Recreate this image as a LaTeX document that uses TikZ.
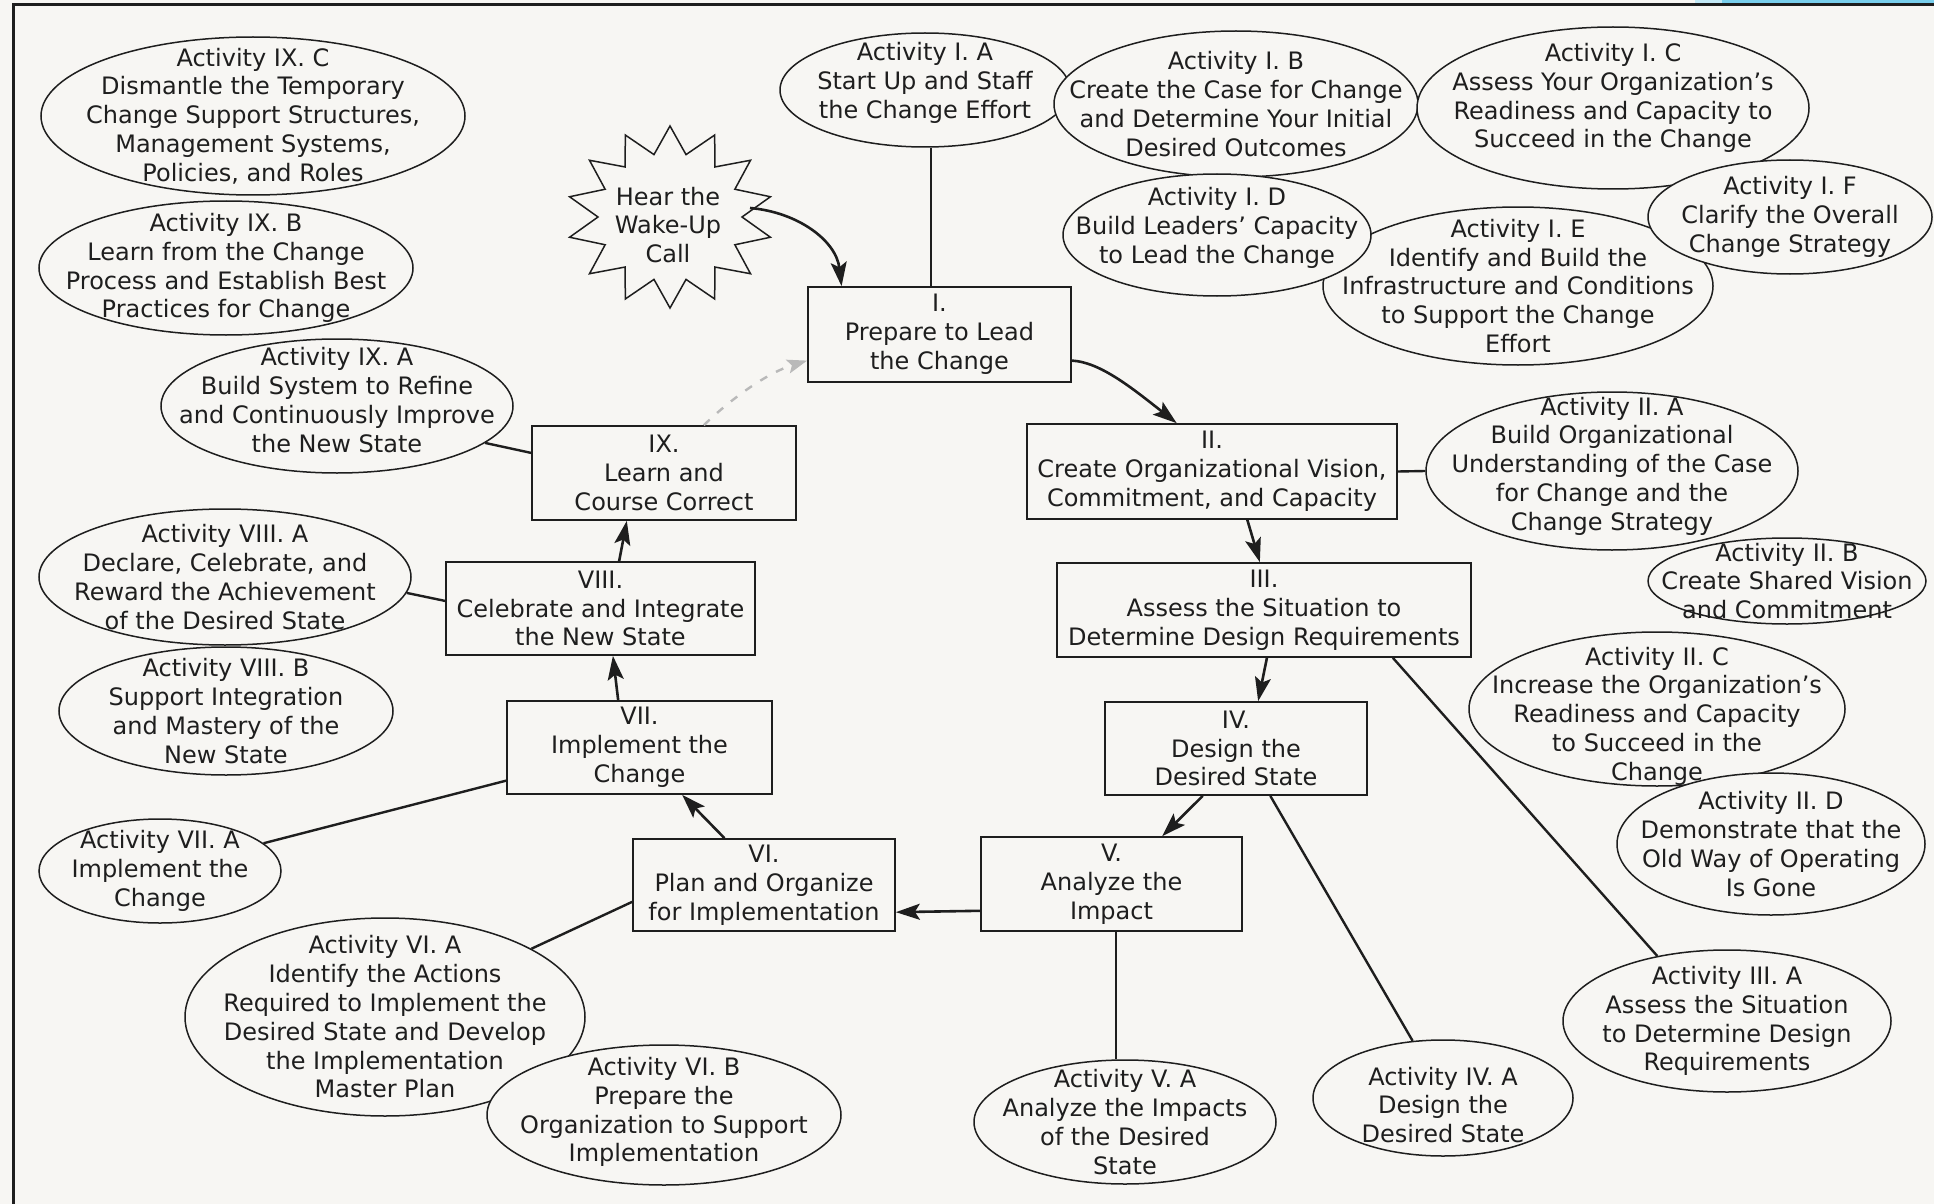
\documentclass[tikz,border=0pt]{standalone}
\usepackage{fontspec}
\newfontfamily\dejavu{DejaVu Sans}
\usetikzlibrary{arrows.meta,calc,shapes.geometric}
\definecolor{paper}{RGB}{247,246,243}
\definecolor{ink}{RGB}{30,30,30}
\definecolor{tabcyan}{RGB}{120,206,236}
\newcommand\txtfont{\dejavu\fontsize{12pt}{14.4pt}\selectfont}
\begin{document}
\begin{tikzpicture}[x=0.5pt,y=-0.5pt,
  stagebox/.style 2 args={draw=ink, line width=0.85pt, fill=paper, rectangle, inner sep=0pt,
     minimum width=#1*0.5pt, minimum height=#2*0.5pt, align=center, font=\txtfont, text=ink},
  act/.style 2 args={draw=ink, line width=0.75pt, fill=paper, ellipse, inner sep=0pt,
     minimum width=#1*1pt, minimum height=#2*1pt},
  acttxt/.style={align=center, font=\txtfont, text=ink, inner sep=0pt},
  link/.style={draw=ink, line width=1.2pt},
  flow/.style={draw=ink, line width=1.3pt, -{Stealth[length=12pt,width=8pt,inset=2.5pt]}},
  loopback/.style={draw=gray!55, line width=1.2pt, dash pattern=on 4pt off 5pt,
     -{Stealth[length=10pt,width=7pt,inset=2pt]}},
]
% page, frame and tab
\fill[paper] (0,0) rectangle (1934,1204);
\useasboundingbox (0,0) rectangle (1934,1204);
\fill[tabcyan!45] (1695,0) rectangle (1722,4);
\fill[tabcyan] (1722,0) rectangle (1934,4);
\draw[ink, line width=1.5pt] (13.5,1204) -- (13.5,5) -- (1934,5);

% ---- activities of phase IX, VIII, VII, VI
\node[act={212}{79}, label={[acttxt]center:{Activity IX. C\\Dismantle the Temporary\\Change Support Structures,\\Management Systems,\\Policies, and Roles}}] (eIXC) at (253,116) {};
\node[act={187}{67}, label={[acttxt]center:{Activity IX. B\\Learn from the Change\\Process and Establish Best\\Practices for Change}}] (eIXB) at (226,268) {};
\node[act={176}{67}, label={[acttxt,yshift=3pt]center:{Activity IX. A\\Build System to Refine\\and Continuously Improve\\the New State}}] (eIXA) at (337,406) {};
\node[act={186}{68}, label={[acttxt]center:{Activity VIII. A\\Declare, Celebrate, and\\Reward the Achievement\\of the Desired State}}] (eVIIIA) at (225,577) {};
\node[act={167}{64}, label={[acttxt]center:{Activity VIII. B\\Support Integration\\and Mastery of the\\New State}}] (eVIIIB) at (226,711) {};
\node[act={121}{52}, label={[acttxt]center:{Activity VII. A\\Implement the\\Change}}] (eVIIA) at (160,871) {};
\node[act={200}{99}, label={[acttxt]center:{Activity VI. A\\Identify the Actions\\Required to Implement the\\Desired State and Develop\\the Implementation\\Master Plan}}] (eVIA) at (385,1017) {};
\node[act={177}{70}, label={[acttxt,yshift=1.5pt]center:{Activity VI. B\\Prepare the\\Organization to Support\\Implementation}}] (eVIB) at (664,1115) {};

% ---- activities of phase V, IV, III
\node[act={151}{62}, label={[acttxt]center:{Activity V. A\\Analyze the Impacts\\of the Desired\\State}}] (eVA) at (1125,1122) {};
\node[act={130}{58}, label={[acttxt,yshift=-3.5pt]center:{Activity IV. A\\Design the\\Desired State}}] (eIVA) at (1443,1098) {};
\node[act={164}{71}, label={[acttxt]center:{Activity III. A\\Assess the Situation\\to Determine Design\\Requirements}}] (eIIIA) at (1727,1021) {};

% ---- activities of phase I
\node[act={145}{57}, label={[acttxt,yshift=3.5pt]center:{Activity I. A\\Start Up and Staff\\the Change Effort}}] (eIA) at (925,90) {};
\node[act={182}{73}, label={[acttxt]center:{Activity I. B\\Create the Case for Change\\and Determine Your Initial\\Desired Outcomes}}] (eIB) at (1236,104) {};
\node[act={196}{81}, label={[acttxt,yshift=5pt]center:{Activity I. C\\Assess Your Organization’s\\Readiness and Capacity to\\Succeed in the Change}}] (eIC) at (1613,108) {};
\node[act={195}{79}, label={[acttxt]center:{Activity I. E\\Identify and Build the\\Infrastructure and Conditions\\to Support the Change\\Effort}}] (eIE) at (1518,286) {};
\node[act={154}{61}, label={[acttxt,yshift=3.5pt]center:{Activity I. D\\Build Leaders’ Capacity\\to Lead the Change}}] (eID) at (1217,235) {};
\node[act={142}{57}, label={[acttxt]center:{Activity I. F\\Clarify the Overall\\Change Strategy}}] (eIF) at (1790,217) {};

% ---- activities of phase II
\node[act={186}{79}, label={[acttxt,yshift=2.5pt]center:{Activity II. A\\Build Organizational\\Understanding of the Case\\for Change and the\\Change Strategy}}] (eIIA) at (1612,471) {};
\node[act={139}{43}, label={[acttxt]center:{Activity II. B\\Create Shared Vision\\and Commitment}}] (eIIB) at (1787,581) {};
\node[act={188}{77}, label={[acttxt,yshift=-3.5pt]center:{Activity II. C\\Increase the Organization’s\\Readiness and Capacity\\to Succeed in the\\Change}}] (eIIC) at (1657,709) {};
\node[act={154}{71}, label={[acttxt]center:{Activity II. D\\Demonstrate that the\\Old Way of Operating\\Is Gone}}] (eIID) at (1771,844) {};

% ---- the wake-up call
\draw[ink, line width=0.75pt, fill=paper]
  plot[samples at={0,...,27}]
  ({670+ifthenelse(mod(\x,2)==0,103,72)*sin(\x*360/28)},
   {217-ifthenelse(mod(\x,2)==0,91,64)*cos(\x*360/28)}) -- cycle;
\node[acttxt] (wake) at (668,225) {Hear the\\Wake-Up\\Call};
\coordinate (wakeout) at (750,208);

% ---- the nine phases
\node[stagebox={263}{95}] (bI) at (939.5,334.5) {I.\\Prepare to Lead\\the Change};
\node[stagebox={370}{95}] (bII) at (1212,471.5) {II.\\Create Organizational Vision,\\Commitment, and Capacity};
\node[stagebox={414}{94}] (bIII) at (1264,610) {III.\\Assess the Situation to\\Determine Design Requirements};
\node[stagebox={262}{93}] (bIV) at (1236,748.5) {IV.\\Design the\\Desired State};
\node[stagebox={261}{94}] (bV) at (1111.5,884) {V.\\Analyze the\\Impact};
\node[stagebox={262}{92}] (bVI) at (764,885) {VI.\\Plan and Organize\\for Implementation};
\node[stagebox={265}{93}] (bVII) at (639.5,747.5) {VII.\\Implement the\\Change};
\node[stagebox={309}{93}] (bVIII) at (600.5,608.5) {VIII.\\Celebrate and Integrate\\the New State};
\node[stagebox={264}{94}] (bIX) at (664,473) {IX.\\Learn and\\Course Correct};

% ---- phase-to-activity links
\coordinate (iAfoot) at ($(bI.north west)!.467!(bI.north east)$);
\draw[link] (iAfoot) -- (iAfoot |- eIA.south);
\draw[link] (bII.east) -- (eIIA.west);
\draw[link] ($(bIII.south west)!.81!(bIII.south east)$) -- (eIIIA.137);
\draw[link] ($(bIV.south west)!.63!(bIV.south east)$) -- (eIVA.118);
\coordinate (vAfoot) at ($(bV.south west)!.517!(bV.south east)$);
\draw[link] (vAfoot) -- (vAfoot |- eVA.north);
\draw[link] ($(bVI.north west)!.68!(bVI.south west)$) -- (eVIA.25);
\draw[link] ($(bVII.north west)!.85!(bVII.south west)$) -- (eVIIA.15);
\draw[link] ($(bVIII.north west)!.42!(bVIII.south west)$) -- (eVIIIA.-5);
\draw[link] ($(bIX.north west)!.29!(bIX.south west)$) -- (eIXA.-14);

% ---- the cycle of phases
\draw[flow] (wakeout) .. controls (797,212) and (836,240) .. ($(bI.north west)!.13!(bI.north east)$);
\draw[flow] ($(bI.north east)!.77!(bI.south east)$) .. controls (1100,362) and (1132,388) .. ($(bII.north west)!.405!(bII.north east)$);
\draw[flow] ($(bII.south west)!.595!(bII.south east)$) -- ($(bIII.north west)!.49!(bIII.north east)$);
\draw[flow] ($(bIII.south west)!.507!(bIII.south east)$) -- ($(bIV.north west)!.584!(bIV.north east)$);
\draw[flow] ($(bIV.south west)!.374!(bIV.south east)$) -- ($(bV.north west)!.693!(bV.north east)$);
\draw[flow] ($(bV.north west)!.78!(bV.south west)$) -- ($(bVI.north east)!.79!(bVI.south east)$);
\draw[flow] ($(bVI.north west)!.35!(bVI.north east)$) -- ($(bVII.south west)!.66!(bVII.south east)$);
\draw[flow] ($(bVII.north west)!.42!(bVII.north east)$) -- ($(bVIII.south west)!.54!(bVIII.south east)$);
\draw[flow] ($(bVIII.north west)!.56!(bVIII.north east)$) -- ($(bIX.south west)!.36!(bIX.south east)$);
\draw[loopback] ($(bIX.north west)!.65!(bIX.north east)$) .. controls (735,395) and (770,372) .. ($(bI.north west)!.77!(bI.south west)$);
\end{tikzpicture}
\end{document}
